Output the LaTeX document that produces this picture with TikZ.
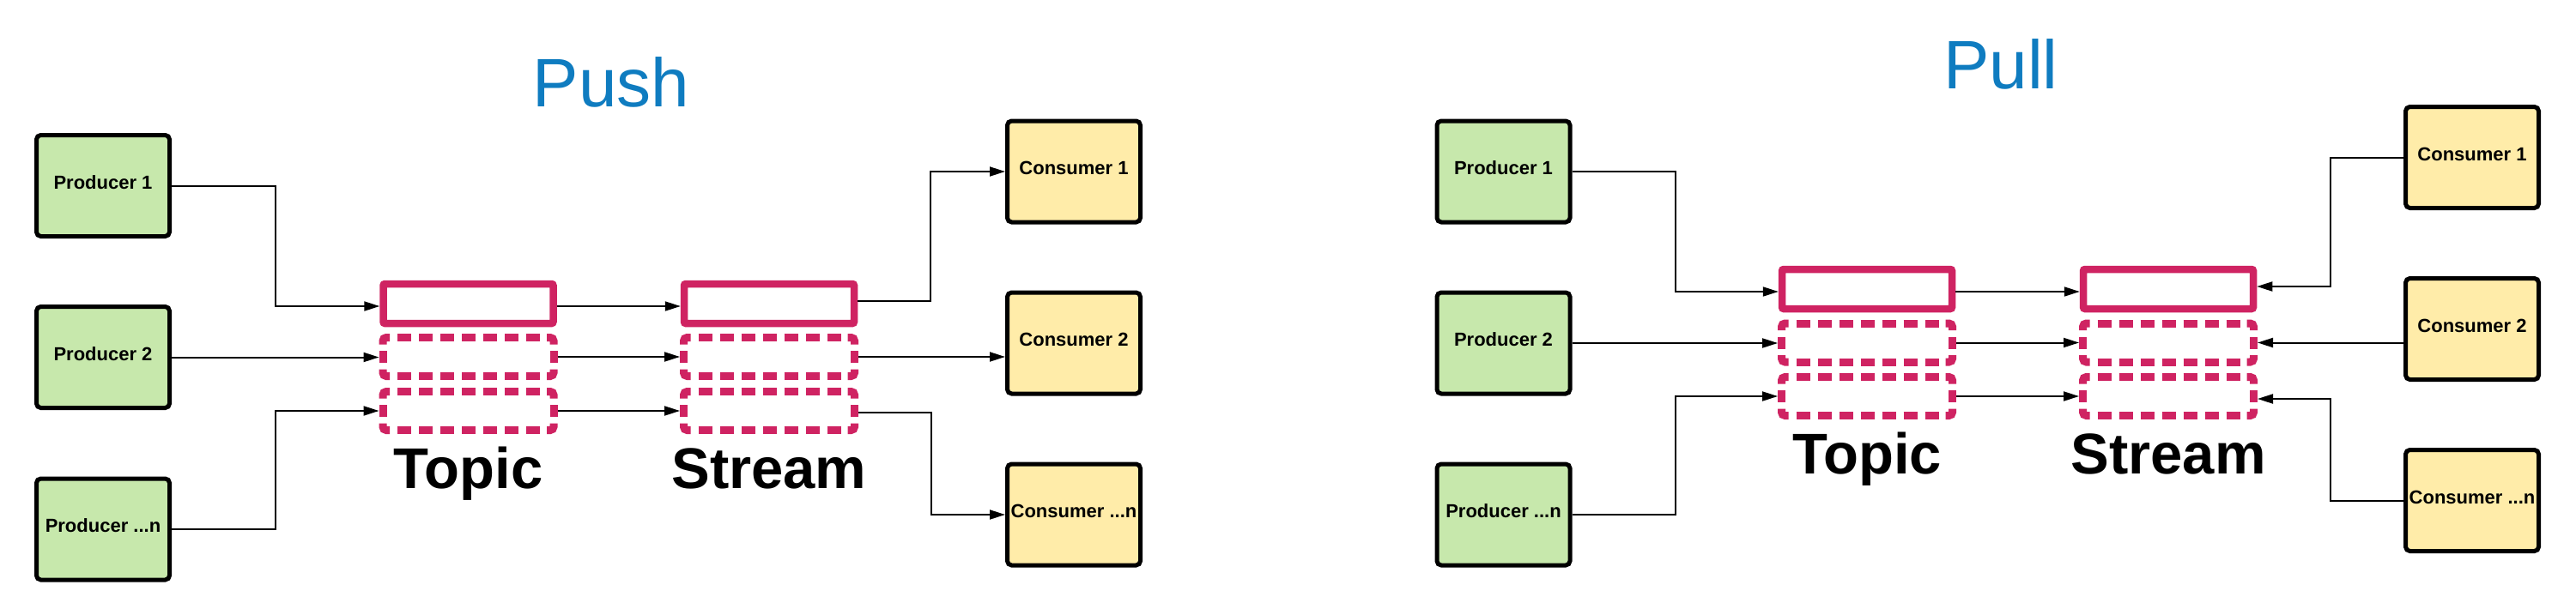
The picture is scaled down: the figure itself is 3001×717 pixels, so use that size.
\documentclass[tikz,border=0pt]{standalone}
\usepackage{fontspec}
\setmainfont{Liberation Sans}
\usetikzlibrary{arrows.meta,calc}
\definecolor{prodgreen}{HTML}{C7E8AC}
\definecolor{consyellow}{HTML}{FFECA9}
\definecolor{qpink}{HTML}{CF2362}
\definecolor{titleblue}{HTML}{0F7CC0}
\tikzset{
  prodbox/.style={draw=black, line width=5pt, fill=prodgreen, rounded corners=5pt,
    minimum width=155pt, minimum height=118pt, inner sep=0pt, text depth=8pt,
    font=\fontsize{22}{26}\selectfont\bfseries},
  consbox/.style={prodbox, fill=consyellow},
  solidq/.style={draw=qpink, line width=8.5pt, rounded corners=2pt,
    minimum width=198pt, minimum height=46pt, inner sep=0pt},
  dashq/.style={minimum width=199pt, minimum height=45pt, inner sep=0pt, outer sep=4.5pt},
  qline/.style={draw=qpink, line width=9pt, line cap=butt},
  arr/.style={draw=black, line width=2pt, -{Triangle[length=18pt,width=11pt]}},
  titletxt/.style={anchor=base, text=titleblue, font=\fontsize{80}{90}\selectfont, inner sep=0pt},
  bigtxt/.style={anchor=base, font=\fontsize{67}{75}\selectfont\bfseries, inner sep=0pt}
}
% dashed queue outline drawn around the centre of a dashq node
\newcommand\qdashbox[1]{%
  \draw[qline,rounded corners=4pt] ($(#1.center)+(-91.5,-22.5)$) -- ($(#1.center)+(-99.5,-22.5)$) -- ($(#1.center)+(-99.5,-14.5)$);
  \draw[qline,rounded corners=4pt] ($(#1.center)+(91.5,-22.5)$) -- ($(#1.center)+(99.5,-22.5)$) -- ($(#1.center)+(99.5,-14.5)$);
  \draw[qline,rounded corners=4pt] ($(#1.center)+(-91.5,22.5)$) -- ($(#1.center)+(-99.5,22.5)$) -- ($(#1.center)+(-99.5,14.5)$);
  \draw[qline,rounded corners=4pt] ($(#1.center)+(91.5,22.5)$) -- ($(#1.center)+(99.5,22.5)$) -- ($(#1.center)+(99.5,14.5)$);
  \draw[qline,dash pattern=on 16pt off 9pt,dash phase=16pt] ($(#1.center)+(-91.5,-22.5)$) -- ($(#1.center)+(91.5,-22.5)$);
  \draw[qline,dash pattern=on 16pt off 9pt,dash phase=16pt] ($(#1.center)+(-91.5,22.5)$) -- ($(#1.center)+(91.5,22.5)$);
  \draw[qline,dash pattern=on 14pt off 7.5pt,dash phase=14pt] ($(#1.center)+(-99.5,-14.5)$) -- ($(#1.center)+(-99.5,14.5)$);
  \draw[qline,dash pattern=on 14pt off 7.5pt,dash phase=14pt] ($(#1.center)+(99.5,-14.5)$) -- ($(#1.center)+(99.5,14.5)$);
}
\begin{document}
\begin{tikzpicture}[x=1pt,y=-1pt]
\useasboundingbox[fill=white] (0,0) rectangle (3001,717);

% ---------------- Push ----------------
\node[titletxt] (pushtitle) at (712,124) {Push};

\node[prodbox] (p1) at (120,216.5) {Producer 1};
\node[prodbox] (p2) at (120,416.5) {Producer 2};
\node[prodbox] (p3) at (120,617) {Producer ...n};

\node[solidq] (t1) at (545.5,354) {};
\node[dashq]  (t2) at (545.5,416) {};
\node[dashq]  (t3) at (545.5,479) {};
\qdashbox{t2}\qdashbox{t3}
\node[bigtxt] (topicA) at (545.5,569) {Topic};

\node[solidq] (s1) at (896,354) {};
\node[dashq]  (s2) at (896,416) {};
\node[dashq]  (s3) at (896,479) {};
\qdashbox{s2}\qdashbox{s3}
\node[bigtxt] (streamA) at (896,569) {Stream};

\node[consbox] (c1) at (1251,200) {Consumer 1};
\node[consbox] (c2) at (1251,400) {Consumer 2};
\node[consbox] (c3) at (1251,600) {Consumer ...n};

\draw[arr] (p1.east) -- ++(121,0) |- ([yshift=-3pt]t1.west);
\draw[arr] (p2.east) -- (p2.east -| t2.west);
\draw[arr] (p3.east) -- ++(121,0) |- (t3.west);

\draw[arr] ([yshift=-3pt]t1.east) -- ([yshift=-3pt]s1.west);
\draw[arr] (t2.east) -- (s2.west);
\draw[arr] (t3.east) -- (s3.west);

\draw[arr] ([yshift=3pt]s1.east) -- ++(85,0) |- (c1.west);
\draw[arr] (s2.east) -- (s2.east -| c2.west);
\draw[arr] ([yshift=-2pt]s3.east) -- ++(85,0) |- (c3.west);

% ---------------- Pull ----------------
\node[titletxt] (pulltitle) at (2331,103) {Pull};

\node[prodbox] (q1) at (1751.5,200) {Producer 1};
\node[prodbox] (q2) at (1751.5,400) {Producer 2};
\node[prodbox] (q3) at (1751.5,600) {Producer ...n};

\node[solidq] (u1) at (2175,337) {};
\node[dashq]  (u2) at (2175,399.5) {};
\node[dashq]  (u3) at (2175,462) {};
\qdashbox{u2}\qdashbox{u3}
\node[bigtxt] (topicB) at (2175,552) {Topic};

\node[solidq] (v1) at (2526,337) {};
\node[dashq]  (v2) at (2526,399.5) {};
\node[dashq]  (v3) at (2526,462) {};
\qdashbox{v2}\qdashbox{v3}
\node[bigtxt] (streamB) at (2526,552) {Stream};

\node[consbox] (d1) at (2880,183.5) {Consumer 1};
\node[consbox] (d2) at (2880,383.5) {Consumer 2};
\node[consbox] (d3) at (2880,583.5) {Consumer ...n};

\draw[arr] (q1.east) -- ++(120,0) |- ([yshift=-3pt]u1.west);
\draw[arr] (q2.east) -- (q2.east -| u2.west);
\draw[arr] (q3.east) -- ++(120,0) |- (u3.west);

\draw[arr] ([yshift=-3pt]u1.east) -- ([yshift=-3pt]v1.west);
\draw[arr] (u2.east) -- (v2.west);
\draw[arr] (u3.east) -- (v3.west);

\draw[arr] (d1.west) -- ++(-85,0) |- ([yshift=3pt]v1.east);
\draw[arr] (d2.west |- v2.east) -- (v2.east);
\draw[arr] (d3.west) -- ++(-85,0) |- ([yshift=-3pt]v3.east);
\end{tikzpicture}
\end{document}
